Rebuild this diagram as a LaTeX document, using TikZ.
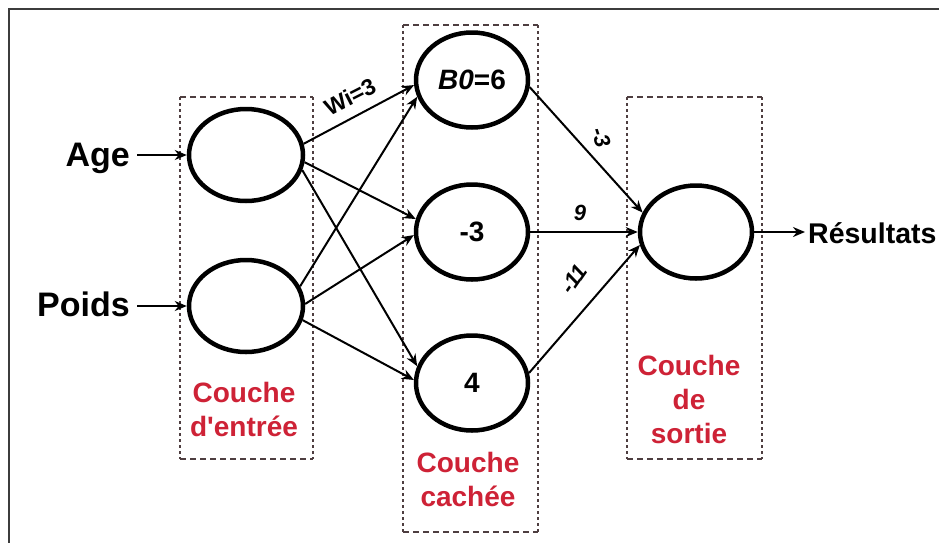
\documentclass[tikz,border=0pt]{standalone}
\usepackage{fontspec}
\setmainfont{Liberation Sans}[Ligatures=TeXOff]
\usetikzlibrary{arrows.meta,shapes.geometric}
\definecolor{layerred}{RGB}{206,34,54}
\definecolor{boxline}{RGB}{78,62,64}
\definecolor{framegray}{RGB}{60,60,60}

\begin{document}
\begin{tikzpicture}[x=1pt,y=-1pt,
  neuron/.style={draw, ellipse, line width=4.5pt, inner sep=0pt, fill=white,
    minimum width=112pt, minimum height=95pt,
    font=\bfseries\fontsize{28}{30}\selectfont},
  link/.style={line width=2pt, -{Stealth[length=12pt,width=10pt]}},
  sidetext/.style={inner sep=0pt, font=\bfseries\fontsize{34}{40}\selectfont},
  layername/.style={anchor=north, align=center, inner sep=0pt, text=layerred,
    font=\bfseries\fontsize{28}{34}\selectfont},
  weight/.style={inner sep=0pt, font=\bfseries\itshape\fontsize{22}{24}\selectfont},
  boxh/.style={boxline, line width=2.2pt, dash pattern=on 6pt off 4pt},
  boxv/.style={boxline, line width=2.2pt, dash pattern=on 3pt off 3pt},
]
\useasboundingbox (0,0) rectangle (939,542);
\fill[white] (0,0) rectangle (939,542);

% outer frame (runs off the right and bottom edges)
\begin{scope}
  \clip (0,0) rectangle (939,542);
  \draw[framegray, line width=2.5pt] (9,9) rectangle (980,580);
\end{scope}

% dashed layer boxes
\draw[boxh] (180,97) -- (313,97) (180,459) -- (313,459);
\draw[boxv] (180,97) -- (180,459) (313,97) -- (313,459);
\draw[boxh] (403,25) -- (538,25) (403,532) -- (538,532);
\draw[boxv] (403,25) -- (403,532) (538,25) -- (538,532);
\draw[boxh] (627,97) -- (762,97) (627,459) -- (762,459);
\draw[boxv] (627,97) -- (627,459) (762,97) -- (762,459);

% neurons
\node[neuron, minimum width=114pt, minimum height=92pt] (in1) at (246,155) {};
\node[neuron, minimum width=114pt, minimum height=92pt] (in2) at (246,306) {};
\node[neuron] (h1) at (472,80) {\textit{B0}=6};
\node[neuron] (h2) at (472,232) {-3};
\node[neuron] (h3) at (472,383) {4};
\node[neuron, minimum height=93pt] (out) at (696,232) {};

% inputs and output
\node[sidetext, anchor=base east] (age) at (130,166) {Age};
\node[sidetext, anchor=base east] (poids) at (130,316) {Poids};
\node[sidetext, anchor=base west, font=\bfseries\fontsize{28.5}{34}\selectfont] (res) at (808,243) {Résultats};

\draw[link, shorten <=7pt] (age.east |- in1) -- (in1);
\draw[link, shorten <=7pt] (poids.east |- in2) -- (in2);
\draw[link, shorten >=3pt] (out) -- (res.west |- out);

% input -> hidden
\draw[link] (in1.11)  -- (h1.185);
\draw[link] (in1.353) -- (h2.167);
\draw[link] (in1.345) -- (h3.163);
\draw[link] (in2.20)  -- (h1.197);
\draw[link] (in2.2)   -- (h2.183);
\draw[link] (in2.346) -- (h3.177);

% hidden -> output
\draw[link] (h1.353) -- (out.160);
\draw[link] (h2) -- (out);
\draw[link] (h3.10)  -- (out.193);

% weights
\node[inner sep=0pt, font=\bfseries\fontsize{23}{25}\selectfont, rotate=27] (wi) at (350,97) {Wi=3};
\node[weight, rotate=-72] (w13) at (601,137) {-3};
\node[weight] (w23) at (580,213) {9};
\node[weight, rotate=55] (w33) at (574,279) {-11};

% layer names
\node[layername] (lin) at (244,381.5) {Couche\\d'entrée};
\node[layername] (lhid) at (468,451.5) {Couche\\cachée};
\node[layername] (lout) at (689,354.5) {Couche\\de\\sortie};
\end{tikzpicture}
\end{document}
